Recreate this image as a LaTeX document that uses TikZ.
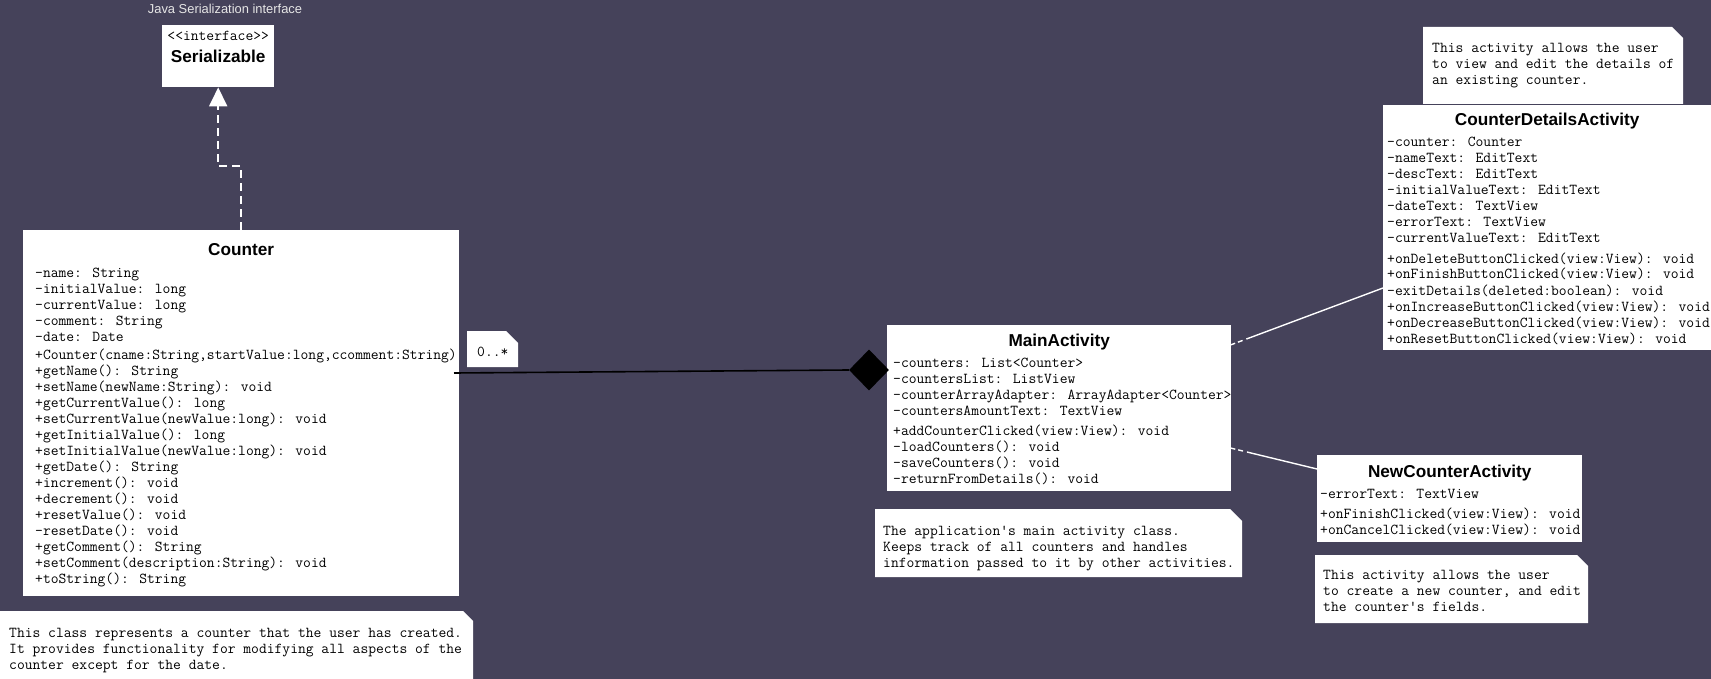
\documentclass[tikz,border=0pt]{standalone}
\usepackage{fontspec}
\setmainfont{Liberation Sans}
\usetikzlibrary{arrows.meta,shapes.geometric,calc}
\definecolor{DiagramBg}{HTML}{45425A}
\definecolor{LabelGrey}{HTML}{E6E6E6}

\tikzset{
  classbox/.style={fill=white, draw=none, anchor=north west, inner sep=0pt},
  classname/.style={font=\bfseries\fontsize{17.2}{20}\selectfont, anchor=base, inner sep=0pt},
  member/.style={font=\ttfamily\fontsize{15.16}{16}\selectfont, anchor=base west, inner sep=0pt},
  dependency/.style={draw=white, line width=1.4pt, dash pattern=on 5pt off 3pt on 5pt off 4pt on 400pt},
  realization/.style={draw=white, line width=2pt, dash pattern=on 8pt off 5pt,
    -{Triangle[width=18pt,length=19pt,fill=white]}},
}

% one text row every 16px
\newcommand{\memberlist}[4]{%
  \foreach \m [count=\i from 0] in {#4}
    {\node[member] (#1-\i) at (#2,{#3+16*\i}) {\m};}}
% note paper with the cut corner
\newcommand{\notepaper}[5]{%
  \fill[white] (#1,#2) -- (#3-#5,#2) -- (#3,#2+#5) -- (#3,#4) -- (#1,#4) -- cycle;}

\begin{document}
\begin{tikzpicture}[x=1pt, y=-1pt]
  \clip (0,0) rectangle (1711,679);
  \fill[DiagramBg] (0,0) rectangle (1711,679);

  % Serializable interface
  \node[font=\fontsize{12.9}{15}\selectfont, text=LabelGrey, inner sep=0pt, anchor=base]
    (ser-label) at (225,14) {Java Serialization interface};
  \node[classbox, minimum width=112pt, minimum height=62pt] (ser) at (162,25) {};
  \node[member, anchor=base] (ser-stereo) at (ser.north |- 0,41) {<<interface>>};
  \node[classname] (ser-title) at (ser.north |- 0,63) {Serializable};

  % Counter
  \node[classbox, minimum width=436pt, minimum height=366pt] (counter) at (23,230) {};
  \node[classname] (counter-title) at (counter.north |- 0,255) {Counter};
  \memberlist{cnt-a}{35}{277}{{-name: String},{-initialValue: long},{-currentValue: long},
    {-comment: String},{-date: Date}}
  \memberlist{cnt-o}{35}{359}{{+Counter(cname:String,startValue:long,ccomment:String)},
    {+getName(): String},{+setName(newName:String): void},{+getCurrentValue(): long},
    {+setCurrentValue(newValue:long): void},{+getInitialValue(): long},
    {+setInitialValue(newValue:long): void},{+getDate(): String},{+increment(): void},
    {+decrement(): void},{+resetValue(): void},{-resetDate(): void},{+getComment(): String},
    {+setComment(description:String): void},{+toString(): String}}

  % MainActivity
  \node[classbox, minimum width=344pt, minimum height=166pt] (main) at (887,325) {};
  \node[classname] (main-title) at (main.north |- 0,346) {MainActivity};
  \memberlist{main-a}{893}{367}{{-counters: List<Counter>},{-countersList: ListView},
    {-counterArrayAdapter: ArrayAdapter<Counter>},{-countersAmountText: TextView}}
  \memberlist{main-o}{893}{435}{{+addCounterClicked(view:View): void},{-loadCounters(): void},
    {-saveCounters(): void},{-returnFromDetails(): void}}

  % CounterDetailsActivity
  \node[classbox, minimum width=328pt, minimum height=245pt] (details) at (1383,105) {};
  \node[classname] (details-title) at (details.north |- 0,126) {CounterDetailsActivity};
  \memberlist{det-a}{1387}{147}{{-counter: Counter},{-nameText: EditText},{-descText: EditText},
    {-initialValueText: EditText},{-dateText: TextView},{-errorText: TextView},
    {-currentValueText: EditText}}
  \memberlist{det-o}{1387}{263}{{+onDeleteButtonClicked(view:View): void},
    {+onFinishButtonClicked(view:View): void},{-exitDetails(deleted:boolean): void},
    {+onIncreaseButtonClicked(view:View): void},{+onDecreaseButtonClicked(view:View): void},
    {+onResetButtonClicked(view:View): void}}

  % NewCounterActivity
  \node[classbox, minimum width=265pt, minimum height=87pt] (newcnt) at (1317,455) {};
  \node[classname] (newcnt-title) at (newcnt.north |- 0,477) {NewCounterActivity};
  \memberlist{new-a}{1320}{498}{{-errorText: TextView}}
  \memberlist{new-o}{1320}{518}{{+onFinishClicked(view:View): void},{+onCancelClicked(view:View): void}}

  % composition Counter -- MainActivity
  \node[diamond, fill=black, inner sep=0pt, minimum width=40pt, minimum height=41pt] (comp) at (869,370) {};
  \coordinate (cnt-link) at (454,373);
  \draw[black, line width=1.6pt] (cnt-link) -- (comp.west);
  \notepaper{467}{331}{518}{367}{12}
  \node[member] (mult) at (477,356) {0..*};

  % dependencies
  \draw[dependency] ($(main.north east)+(-1,20)$) -- ($(details.north west)+(0,183)$);
  \draw[dependency] ($(main.north east)+(-1,123)$) -- ($(newcnt.north west)+(0,14)$);

  % realization
  \draw[realization] (counter.north) -- ++(0,-64) -| (ser.south);

  % notes
  \notepaper{-2}{611}{473}{690}{10}
  \memberlist{cnt-n}{9}{637}{{This class represents a counter that the user has created.},
    {It provides functionality for modifying all aspects of the},{counter except for the date.}}
  \notepaper{875}{509}{1242}{577}{12}
  \memberlist{main-n}{883}{535}{{The application's main activity class.},
    {Keeps track of all counters and handles},{information passed to it by other activities.}}
  \notepaper{1423}{27}{1683}{104}{11}
  \memberlist{det-n}{1432}{53}{{This activity allows the user},{to view and edit the details of},
    {an existing counter.}}
  \notepaper{1315}{555}{1588}{623}{11}
  \memberlist{new-n}{1323}{579}{{This activity allows the user},{to create a new counter, and edit},
    {the counter's fields.}}
\end{tikzpicture}
\end{document}
